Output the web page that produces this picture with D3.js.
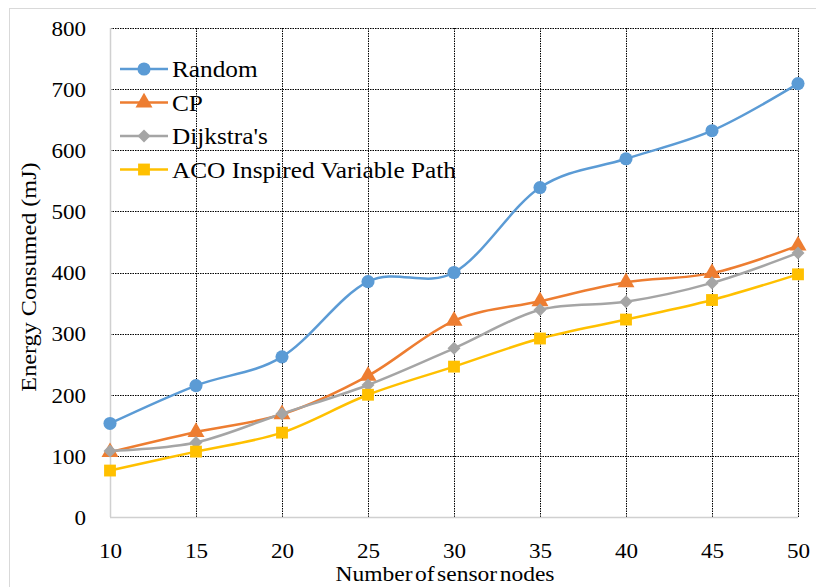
<!DOCTYPE html>
<html><head><meta charset="utf-8">
<script src="https://cdn.jsdelivr.net/npm/d3@7"></script>
<style>body{margin:0;background:#fff}svg{display:block}</style>
</head><body>
<script>
const nodes = [10,15,20,25,30,35,40,45,50];
const yTicks = [0,100,200,300,400,500,600,700,800];
const random = [153,215,262,385,400,539,586,632,709];
const cp = [106,139,168,231,321,353,384,399,444];
const dijkstra = [108,122,169,216,276,339,352,383,432];
const aco = [76,107,138,200,246,292,323,355,397];
const seriesNames = ["Random","CP","Dijkstra's","ACO Inspired Variable Path"];
const seriesColors = ["#5B9BD5","#ED7D31","#A5A5A5","#FFC000"];
const seriesValues = [random, cp, dijkstra, aco];
const FONT = "'Liberation Serif', 'Times New Roman', 'DejaVu Serif', serif";

// marker shapes: circle, triangle, diamond (rotated square), square
const markerDefs = [
  {type:d3.symbolCircle, size:135, rot:0},
  {type:d3.symbolTriangle, size:125, rot:0},
  {type:d3.symbolSquare, size:85, rot:45},
  {type:d3.symbolSquare, size:140, rot:0}
];

const W=816,H=587;
const svg=d3.select("body").append("svg").attr("width",W).attr("height",H);
svg.append("rect").attr("x",9.5).attr("y",8.5).attr("width",W).attr("height",H).attr("fill","none").attr("stroke","#d9d9d9");

const x=d3.scaleLinear().domain([10,50]).range([110,798]);
const y=d3.scaleLinear().domain([0,800]).range([517,28]);

// gridlines
const g=svg.append("g");
g.selectAll(".hg").data(yTicks.filter(d=>d>0)).join("line")
 .attr("x1",110).attr("x2",798).attr("y1",d=>Math.round(y(d))+0.5).attr("y2",d=>Math.round(y(d))+0.5)
 .attr("stroke","#000").attr("stroke-dasharray","1.5,1").attr("stroke-width",1);
g.selectAll(".vg").data(nodes.slice(1)).join("line")
 .attr("y1",28).attr("y2",517).attr("x1",d=>Math.round(x(d))+0.5).attr("x2",d=>Math.round(x(d))+0.5)
 .attr("stroke","#000").attr("stroke-dasharray","1.5,1").attr("stroke-width",1);
// axes lines
svg.append("line").attr("x1",110.5).attr("x2",110.5).attr("y1",28).attr("y2",517).attr("stroke","#d0d0d0").attr("stroke-width",1.5);
svg.append("line").attr("x1",110).attr("x2",798).attr("y1",517.5).attr("y2",517.5).attr("stroke","#d0d0d0").attr("stroke-width",1.5);

// tick labels
const yAxis=d3.axisLeft(y).tickValues(yTicks).tickSize(0).tickPadding(24);
const ya=svg.append("g").attr("transform","translate(110,0)").call(yAxis).attr("font-family",null);
ya.select(".domain").remove();
ya.selectAll("text").style("font-family",FONT).style("font-size","21px").attr("fill","#000").attr("dy","0.35em")
  .attr("transform","translate(-24,0) scale(1.1,1) translate(24,0)");
const xAxis=d3.axisBottom(x).tickValues(nodes).tickSize(0).tickPadding(26);
const xa=svg.append("g").attr("transform","translate(0,517)").call(xAxis).attr("font-family",null);
xa.select(".domain").remove();
xa.selectAll("text").style("font-family",FONT).style("font-size","21px").attr("fill","#000")
  .attr("transform","scale(1.1,1)");

// titles
svg.append("text").attr("transform","translate(36,277) rotate(-90) scale(1.1,1)").attr("text-anchor","middle")
 .style("font-family",FONT).style("font-size","22px").text("Energy Consumed (mJ)");
svg.append("text").attr("transform","translate(445,581) scale(1.12,1)").attr("text-anchor","middle")
 .style("font-family",FONT).style("font-size","21px").style("word-spacing","-3px").text("Number of sensor nodes");

// series
const line=d3.line().x((d,i)=>x(nodes[i])).y(d=>y(d)).curve(d3.curveCatmullRom.alpha(0));
seriesValues.forEach((vals,k)=>{
  svg.append("path").attr("d",line(vals)).attr("fill","none").attr("stroke",seriesColors[k]).attr("stroke-width",2.5);
});
seriesValues.forEach((vals,k)=>{
  const m=markerDefs[k];
  svg.append("g").selectAll("path").data(vals).join("path")
   .attr("transform",(d,i)=>`translate(${x(nodes[i])},${y(d)}) rotate(${m.rot})`)
   .attr("d",d3.symbol(m.type,m.size)).attr("fill",seriesColors[k]);
});

// legend
const lg=svg.append("g");
const rowY=[69,102.5,136,169.5];
seriesNames.forEach((n,k)=>{
  const m=markerDefs[k];
  const r=lg.append("g").attr("transform",`translate(0,${rowY[k]})`);
  r.append("line").attr("x1",120).attr("x2",168).attr("stroke",seriesColors[k]).attr("stroke-width",2.5);
  r.append("path").attr("transform",`translate(144,0) rotate(${m.rot})`).attr("d",d3.symbol(m.type,m.size)).attr("fill",seriesColors[k]);
  r.append("text").attr("dy","0.35em").style("font-family",FONT).style("font-size","23px")
   .attr("transform","translate(172,0) scale(1.1,1)").text(n);
});
</script>
</body></html>
